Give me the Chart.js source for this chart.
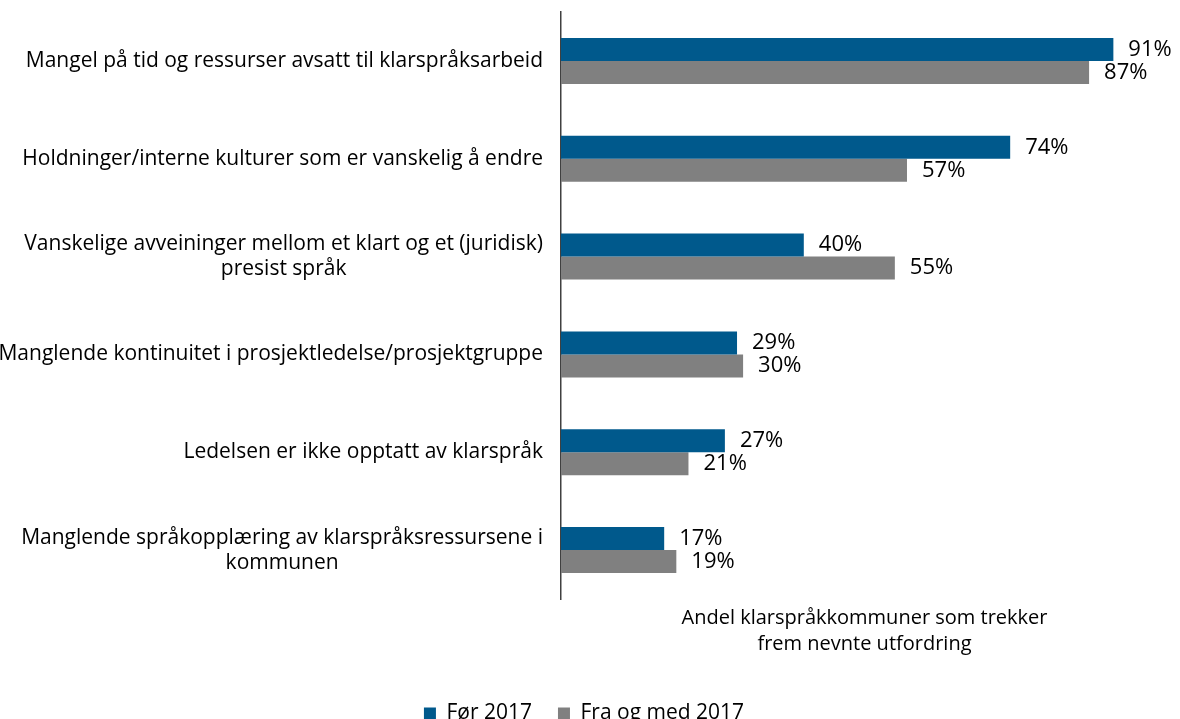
<!DOCTYPE html>
<html lang="no">
<head>
<meta charset="utf-8">
<title>Utfordringer i klarspråkarbeidet</title>
<script src="https://cdn.jsdelivr.net/npm/chart.js@4/dist/chart.umd.min.js"></script>
<style>
  html, body {
    margin: 0;
    padding: 0;
    background: #ffffff;
    overflow: hidden;
  }

  .chart-wrap {
    position: absolute;
    left: 0;
    top: 0;
    width: 1180px;
    height: 734px;
  }
</style>
</head>
<body>
<div class="chart-wrap">
  <canvas id="chartUtfordringer"></canvas>
</div>

<script>
/* Andel klarspråkkommuner per utfordring, før / fra og med 2017 */

const CATEGORIES = [
  ["Mangel på tid og ressurser avsatt til klarspråksarbeid"],
  ["Holdninger/interne kulturer som er vanskelig å endre"],
  ["Vanskelige avveininger mellom et klart og et (juridisk)", "presist språk"],
  ["Manglende kontinuitet i prosjektledelse/prosjektgruppe"],
  ["Ledelsen er ikke opptatt av klarspråk"],
  ["Manglende språkopplæring av klarspråksressursene i", "kommunen"],
];

const SERIES_NAMES = ["Før 2017", "Fra og med 2017"];
const FOR_2017 = [91, 74, 40, 29, 27, 17];
const FRA_2017 = [87, 57, 55, 30, 21, 19];

const AXIS_TITLE = ["Andel klarspråkkommuner som trekker", "frem nevnte utfordring"];

const BLUE = "#00598c";
const GRAY = "#808080";
const FONT_FAMILY = "'Open Sans', 'DejaVu Sans', sans-serif";
const LABEL_SIZE = 21;
const VALUE_SIZE = 22;
const TITLE_SIZE = 20;

Chart.defaults.font.family = FONT_FAMILY;
Chart.defaults.color = "#000000";


// etiketter på kategoriaksen: blokken høyrejusteres, linjene sentreres
const categoryLabels = {
  id: "categoryLabels",
  afterDraw(chart) {
    const ctx = chart.ctx;
    const scale = chart.scales.y;
    const right = chart.chartArea.left - 18;
    const lineHeight = 25;

    ctx.save();
    ctx.font = LABEL_SIZE + "px " + FONT_FAMILY;
    ctx.fillStyle = "#000000";
    ctx.textAlign = "center";
    ctx.textBaseline = "middle";

    CATEGORIES.forEach((lines, i) => {
      const y = scale.getPixelForTick(i);
      const widest = Math.max(...lines.map((l) => ctx.measureText(l).width));
      const cx = right - widest / 2;
      const startY = y - ((lines.length - 1) * lineHeight) / 2;

      lines.forEach((line, j) => {
        ctx.fillText(line, cx, startY + j * lineHeight);
      });
    });

    ctx.restore();
  },
};


// prosentverdier til høyre for hver stolpe
const valueLabels = {
  id: "valueLabels",
  afterDatasetsDraw(chart) {
    const ctx = chart.ctx;

    ctx.save();
    ctx.font = VALUE_SIZE + "px " + FONT_FAMILY;
    ctx.fillStyle = "#000000";
    ctx.textAlign = "left";
    ctx.textBaseline = "middle";

    chart.data.datasets.forEach((ds, di) => {
      const meta = chart.getDatasetMeta(di);

      meta.data.forEach((bar, i) => {
        ctx.fillText(ds.data[i] + "%", bar.x + 15, bar.y);
      });
    });

    ctx.restore();
  },
};


new Chart(document.getElementById("chartUtfordringer"), {
  type: "bar",
  data: {
    labels: CATEGORIES,
    datasets: [
      {
        label: SERIES_NAMES[0],
        data: FOR_2017,
        backgroundColor: BLUE,
        categoryPercentage: 0.47,
        barPercentage: 1,
      },
      {
        label: SERIES_NAMES[1],
        data: FRA_2017,
        backgroundColor: GRAY,
        categoryPercentage: 0.47,
        barPercentage: 1,
      },
    ],
  },
  options: {
    indexAxis: "y",
    responsive: true,
    maintainAspectRatio: false,
    animation: false,
    layout: {
      padding: { top: 12, right: 12, bottom: 0, left: 0 },
    },
    plugins: {
      legend: {
        position: "bottom",
        labels: {
          boxWidth: 12,
          boxHeight: 12,
          padding: 26,
          font: { size: LABEL_SIZE },
          color: "#000000",
        },
      },
      tooltip: { enabled: false },
    },
    scales: {
      x: {
        min: 0,
        max: 100,
        grid: { display: false, drawTicks: false },
        border: { display: false },
        ticks: { display: false },
        title: {
          display: true,
          text: AXIS_TITLE,
          color: "#000000",
          font: { size: TITLE_SIZE, lineHeight: 1.3 },
          padding: { top: 4, bottom: 20 },
        },
        afterFit(axis) {
          axis.height = 78;
        },
      },
      y: {
        grid: { display: false, drawTicks: false },
        border: { display: true, color: "#404040", width: 1.5 },
        ticks: { display: false },
        afterFit(axis) {
          axis.width = 561;
        },
      },
    },
  },
  plugins: [categoryLabels, valueLabels],
});
</script>
</body>
</html>
